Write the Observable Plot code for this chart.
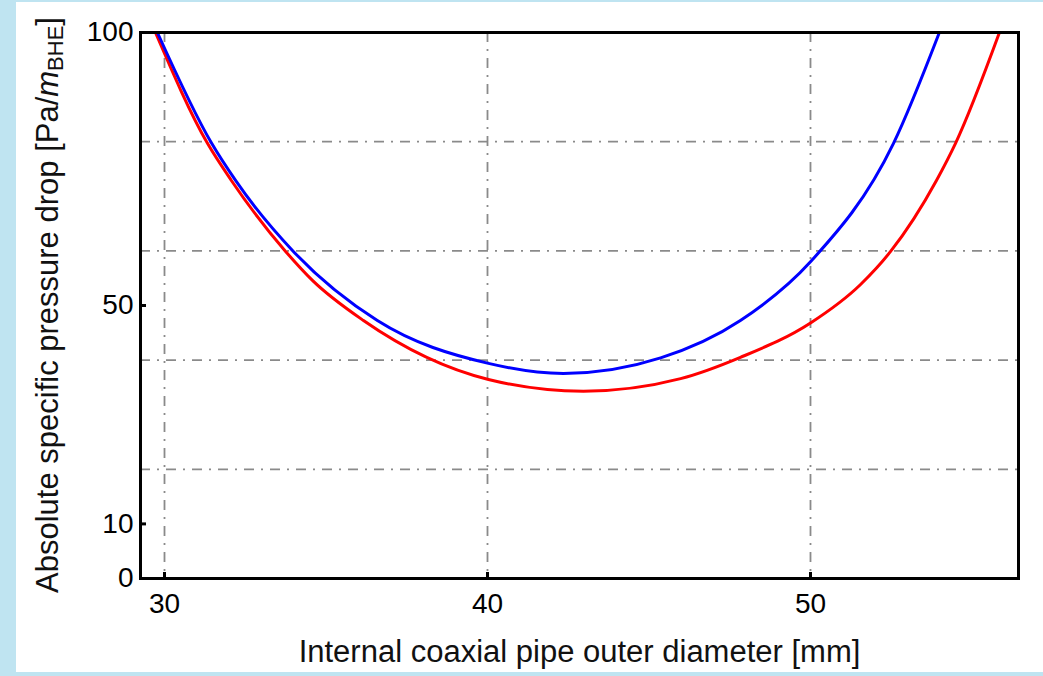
<!DOCTYPE html>
<html><head><meta charset="utf-8">
<script src="https://cdn.jsdelivr.net/npm/d3@7"></script>
<script src="https://cdn.jsdelivr.net/npm/@observablehq/plot@0.6"></script>
<style>
html,body{margin:0;padding:0;background:#bfe4f1;width:1043px;height:676px;overflow:hidden}
#panel{position:absolute;left:16px;top:2px;width:1027px;height:670px;background:#fff}
</style></head><body><div id="panel"></div>
<script>
// Blue curve (diameter in mm, pressure drop in Pa/m_BHE)
const blueDiameter = [29.78, 31.46, 32.20, 33.99, 36.59, 40.03, 42.35, 45.36, 47.83, 50.0, 52.57, 53.99];
const bluePressure = [100, 79.7, 72.9, 59.9, 47.25, 39.4, 37.55, 40.4, 47.25, 58.0, 79.7, 100];
// Red curve
const redDiameter = [29.72, 31.33, 32.07, 33.75, 34.58, 36.16, 40.03, 42.97, 45.98, 47.83, 50.0, 51.55, 52.48, 53.90, 54.49, 55.85];
const redPressure = [100, 79.7, 72.9, 59.9, 54.6, 47.25, 36.45, 34.3, 36.6, 40.5, 46.8, 53.85, 59.9, 72.9, 79.7, 100];

const xTicks = [30, 40, 50];
const yTicks = [0, 10, 50, 100];
const yGrid = [20, 40, 60, 80];
const xLabel = "Internal coaxial pipe outer diameter [mm]";

const blue = blueDiameter.map((d, i) => ({d, p: bluePressure[i]}));
const red = redDiameter.map((d, i) => ({d, p: redPressure[i]}));

const font = "'Liberation Sans', Arial, sans-serif";
const gridStyle = {stroke: "#8a8a8a", strokeWidth: 1.8, strokeDasharray: "10,7,2,7", strokeOpacity: 1};

const chart = Plot.plot({
  width: 1027,
  height: 670,
  marginLeft: 124,
  marginRight: 25,
  marginTop: 30,
  marginBottom: 94,
  style: {fontFamily: font, background: "transparent", color: "black"},
  x: {domain: [29.257, 56.44]},
  y: {domain: [0, 100]},
  marks: [
    Plot.ruleX(xTicks, {...gridStyle}),
    Plot.ruleY(yGrid, {...gridStyle}),
    Plot.line(red, {x: "d", y: "p", stroke: "#ff0000", strokeWidth: 3, curve: "monotone-x"}),
    Plot.line(blue, {x: "d", y: "p", stroke: "#0000ff", strokeWidth: 3, curve: "monotone-x"}),
    Plot.axisX({ticks: xTicks, tickSize: -6, tickPadding: 21, fontSize: 28, label: null, strokeWidth: 3, tickFormat: d => String(d)}),
    Plot.axisY({ticks: yTicks, tickSize: -6, tickPadding: 13, fontSize: 28, label: null, strokeWidth: 3, tickFormat: d => String(d)}),
    Plot.frame({stroke: "black", strokeWidth: 3}),
    Plot.text([xLabel], {frameAnchor: "bottom", text: d => d, dy: 83, fontSize: 31, fill: "#111"})
  ]
});
document.getElementById("panel").appendChild(chart);

// rotated y-axis label with italic m and subscript BHE
const svg = d3.select(chart);
const t = svg.append("text")
  .attr("transform", `translate(34, ${30 + 546/2}) rotate(-90)`)
  .attr("text-anchor", "middle")
  .attr("dominant-baseline", "middle")
  .attr("font-family", font)
  .attr("font-size", 31)
  .attr("fill", "#111");
t.append("tspan").text("Absolute specific pressure drop [Pa/");
t.append("tspan").attr("font-style", "italic").text("m");
t.append("tspan").attr("font-size", 22).attr("dy", 7).text("BHE");
t.append("tspan").attr("dy", -7).text("]");
</script>
</body></html>
